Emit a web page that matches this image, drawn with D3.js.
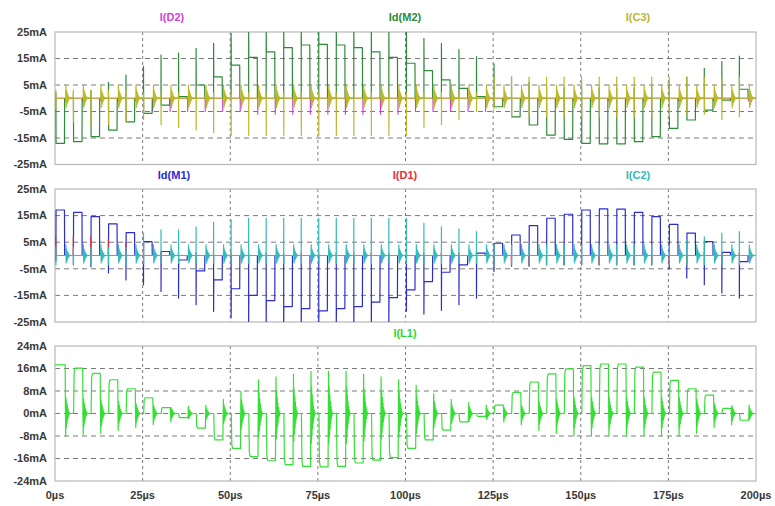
<!DOCTYPE html>
<html><head><meta charset="utf-8">
<script src="https://cdn.jsdelivr.net/npm/d3@7"></script>
<style>
body{margin:0;background:#fff}
svg{display:block}
text{font-family:"Liberation Sans",Arial,sans-serif;font-weight:bold}
</style>
</head><body>
<svg id="chart" width="775" height="506"></svg>
<script>
// ---------- data ----------
const xTicks = [0,25,50,75,100,125,150,175,200];
const xTickLabels = ["0µs","25µs","50µs","75µs","100µs","125µs","150µs","175µs","200µs"];
const yTicksAB = [25,15,5,-5,-15,-25];
const yTickLabelsAB = ["25mA","15mA","5mA","-5mA","-15mA","-25mA"];
const yTicksC = [24,16,8,0,-8,-16,-24];
const yTickLabelsC = ["24mA","16mA","8mA","0mA","-8mA","-16mA","-24mA"];
const period = 5; // µs, switching period (40 cycles)

// top panel: Id(M2), I(C3), I(D2)
const m2Level = [-17.0,-16.4,-14.5,-12.0,-8.9,-5.7,-2.6,0.6,5.0,8.1,12.5,15.4,17.5,19.1,20.1,20.3,20.1,19.1,17.5,15.4,13.2,10.4,6.9,3.7,0.6,-3.2,-7.0,-10.1,-13.9,-15.5,-17.0,-17.2,-17.2,-16.4,-14.5,-11.4,-8.2,-4.5,-0.7,3.4];
const m2Spike = [2,2,3,6,8.7,12,16.3,17,18.8,20.7,24.5,26,26,26,26,26,26,26,26,26,26,22.6,20.7,18.4,15.7,13,8,6,5,4,4,4,4,4,5,6,8,11.3,13.8,15.9];
const c3Up   = [3,3,3,3,3,2,2,2,2,2,2,2,2,2,2,2,2,2,2,2,2,2,2,2,2,8,8,8,8,8,8,8,8,8,8,8,8,8,8,8];
const c3Down = [4,9,10,10,9,8,10,11,12,13,14,14,14,14,14,14,14,14,14,14,14,11,10,8,5,4,7,7,7,7,7,7,7,7,7,7,6,6,8,7];
const c3Ring = [5,5,5,5,5,5,5,5,5,5,5,5,5,5,5,5,5,5,5,5,5,5,5,5,5,5,5,5,5,5,5,5,5,5,5,5,5,5,5,5];
const d2Blip = [-1,-1,-1,-1,-1,-5,-5,-5,-5,-5,-5,-6,-6,-6,-6,-6,-6,-6,-6,-6,-5,-5,-5,-5,-5,-1,-1,-1,-1,-1,-1,-1,-1,-1,-1,-1,-1,-1,-1,-1];

// middle panel: Id(M1), I(D1), I(C2)
const m1Level = [17.1,16.2,14.6,11.9,8.6,5.2,1.5,-1.7,-5.8,-9.2,-12.5,-15,-17,-19.2,-20,-20.8,-20,-19.2,-17.5,-15.8,-12.9,-9.8,-6.3,-3.5,0.9,4.6,7.7,11.2,14,15.5,17.1,17.5,17.4,16.2,14.6,11.7,8.4,5.2,1.2,-2.3];
const m1Spike = [2,3.5,4.2,6.6,9.2,11,13.5,16,18.5,21,23.5,25,26,26,26,26,26,26,26,26,21,22,20.6,18.5,16,6,4,4,3.5,3.5,3.5,3.5,3.5,3.5,3.5,5,8.5,11,14.1,16];
const c2Up   = [3,3,3,3,3,8.4,9.6,9.6,10.8,12.5,13.4,14,14,14,14,14,14,14,14,14,14,12.1,10.8,10,9,4,4,4,4,4,4,4,4,4,4,4,6,7,8.4,9];
const c2Down = [3.5,3.5,3.5,3.5,3.5,3,3,3,3,3,3,3,3,3,3,3,3,3,3,3,3,3,3,3,3,3.5,3.5,3.5,3.5,3.5,3.5,3.5,3.5,3.5,3.5,3.5,3.5,3.5,3.5,3.5];
const c2Ring = [4,4,4,4,4,4,4,4,4,4,4,4,4,4,4,4,4,4,4,4,4,4,4,4,4,4,4,4,4,4,4,4,4,4,4,4,4,4,4,4];
const d1Blip = [7,7,7,6,5,1,1,1,1,1,1,1,1,1,1,1,1,1,1,1,1,1,1,1,1,-3.5,-3.5,-3.5,-3.5,-3.5,-3.5,-3.5,-3.5,-3.5,-3.5,-3.5,-3.5,1,1,1];

// bottom panel: I(L1)
const l1Level = [17.3,16.1,14.3,12.0,8.8,5.6,2.1,-1.5,-5.2,-9.4,-12.4,-15.3,-16.8,-18.2,-18.8,-19.0,-18.8,-17.6,-16.6,-15.7,-12.4,-9.4,-5.9,-3.0,-1.0,3.0,7.5,11.2,14.1,15.9,17.0,17.6,17.6,16.5,14.7,11.8,8.8,6.5,1.8,-2.4];
const l1Ring  = [8,7.5,7,6,5,4,3,2.5,3,5,8,12,13,14,15,15,15,14,13,12,10,7,5,4,3,3,4,6,7,8,8,8,8,8,8,8,7,5,4,3];
// relative shape of the decaying ringing after each switching edge
const ringShape = [1,-0.7,0.62,-0.52,0.44,-0.36,0.29,-0.23,0.17,-0.12,0.08,-0.05,0.02,0];

// ---------- layout ----------
const svg = d3.select("#chart");
const X0 = 55, X1 = 756;
const x = d3.scaleLinear().domain([0,200]).range([X0,X1]);
const panels = [
  {y0:32,  y1:164.5, dom:[-25,25], ticks:yTicksAB, labels:yTickLabelsAB, id:"p0"},
  {y0:189, y1:322,   dom:[-25,25], ticks:yTicksAB, labels:yTickLabelsAB, id:"p1"},
  {y0:346, y1:481,   dom:[-24,24], ticks:yTicksC,  labels:yTickLabelsC,  id:"p2"}
];
const defs = svg.append("defs");
panels.forEach(p=>{
  p.y = d3.scaleLinear().domain(p.dom).range([p.y1,p.y0]);
  defs.append("clipPath").attr("id","clip"+p.id).append("rect")
    .attr("x",X0).attr("y",p.y0).attr("width",X1-X0).attr("height",p.y1-p.y0);
  const g = svg.append("g");
  g.selectAll("line.v").data(xTicks.slice(1,-1)).enter().append("line")
    .attr("x1",d=>x(d)).attr("x2",d=>x(d)).attr("y1",p.y0).attr("y2",p.y1)
    .attr("stroke","#7a7a7a").attr("stroke-width",1).attr("stroke-dasharray","3,3");
  g.selectAll("line.h").data(p.ticks.slice(1,-1)).enter().append("line")
    .attr("x1",X0).attr("x2",X1).attr("y1",d=>p.y(d)).attr("y2",d=>p.y(d))
    .attr("stroke","#7a7a7a").attr("stroke-width",1).attr("stroke-dasharray","5,4");
  g.append("rect").attr("x",X0).attr("y",p.y0).attr("width",X1-X0).attr("height",p.y1-p.y0)
    .attr("fill","none").attr("stroke","#b8b8b8").attr("stroke-width",1.2);
  g.selectAll("text.yl").data(p.ticks).enter().append("text")
    .attr("x",47).attr("y",d=>p.y(d)).attr("dy","0.35em").attr("text-anchor","end")
    .attr("font-size",11).attr("fill","#3a3a3a").text((d,i)=>p.labels[i]);
  p.g = svg.append("g").attr("clip-path","url(#clip"+p.id+")");
});
svg.selectAll("text.xl").data(xTicks).enter().append("text")
  .attr("x",d=>x(d)).attr("y",499).attr("text-anchor","middle")
  .attr("font-size",11).attr("fill","#3a3a3a").text((d,i)=>xTickLabels[i]);

const titles = [
  {t:"I(D2)",  x:172, y:21,  c:"#d23fd2"},
  {t:"Id(M2)", x:405, y:21,  c:"#2a8a3a"},
  {t:"I(C3)",  x:638, y:21,  c:"#b9b43a"},
  {t:"Id(M1)", x:174, y:179, c:"#2a2ad0"},
  {t:"I(D1)",  x:405, y:179, c:"#e0303a"},
  {t:"I(C2)",  x:638, y:179, c:"#33baba"},
  {t:"I(L1)",  x:405, y:337, c:"#2ed82e"}
];
svg.selectAll("text.title").data(titles).enter().append("text")
  .attr("x",d=>d.x).attr("y",d=>d.y).attr("text-anchor","middle")
  .attr("font-size",11).attr("fill",d=>d.c).text(d=>d.t);

// ---------- trace builders ----------
const ringStep = 0.09;
function pulseTrace(levels, spikes, sgn){
  const pts=[[0,0]];
  levels.forEach((E,k)=>{
    const t0=k*period;
    pts.push([t0+0.25,0],[t0+0.25,sgn*spikes[k]],[t0+0.3,E],[t0+2.7,E],[t0+2.75,0]);
  });
  pts.push([200,0]);
  return pts;
}
function capTrace(up, down, ring){
  const pts=[[0,0]];
  up.forEach((u,k)=>{
    const t0=k*period;
    pts.push([t0+0.24,0],[t0+0.25,u],[t0+0.27,-down[k]],[t0+0.29,0],[t0+3.05,0]);
    ringShape.forEach((r,i)=>pts.push([t0+3.1+i*ringStep, ring[k]*r]));
  });
  pts.push([200,0]);
  return pts;
}
function blipTrace(blips, at){
  const pts=[[0,0]];
  blips.forEach((b,k)=>{
    const t0=k*period;
    pts.push([t0+at-0.02,0],[t0+at,b],[t0+at+0.04,0]);
  });
  pts.push([200,0]);
  return pts;
}
function inductorTrace(levels, ring){
  const pts=[[0,levels[0]]];
  levels.forEach((E,k)=>{
    const t0=k*period;
    if(k>0) pts.push([t0+0.3,0],[t0+0.45,E*0.9],[t0+0.7,E]);
    pts.push([t0+2.9,E],[t0+2.98,0]);
    const s = E>=0?-1:1;
    ringShape.forEach((r,i)=>pts.push([t0+3.05+i*ringStep, s*ring[k]*r]));
  });
  pts.push([200,0]);
  return pts;
}
function draw(p, pts, color, w){
  const line = d3.line().x(d=>x(d[0])).y(d=>p.y(d[1]));
  p.g.append("path").attr("d",line(pts)).attr("fill","none")
    .attr("stroke",color).attr("stroke-width",w).attr("stroke-linejoin","round");
}

const [P0,P1,P2] = panels;
draw(P0, blipTrace(d2Blip,2.85), "#d23fd2", 1.1);
draw(P0, pulseTrace(m2Level,m2Spike,1), "#2e8b3a", 1.2);
draw(P0, capTrace(c3Up,c3Down,c3Ring), "#bdb72a", 1.2);

draw(P1, pulseTrace(m1Level,m1Spike,-1), "#2d2dcc", 1.2);
draw(P1, blipTrace(d1Blip,0.2), "#e0303a", 1.1);
draw(P1, capTrace(c2Up,c2Down,c2Ring), "#33bcbc", 1.2);

draw(P2, inductorTrace(l1Level,l1Ring), "#35e035", 1.2);
</script>
</body></html>
